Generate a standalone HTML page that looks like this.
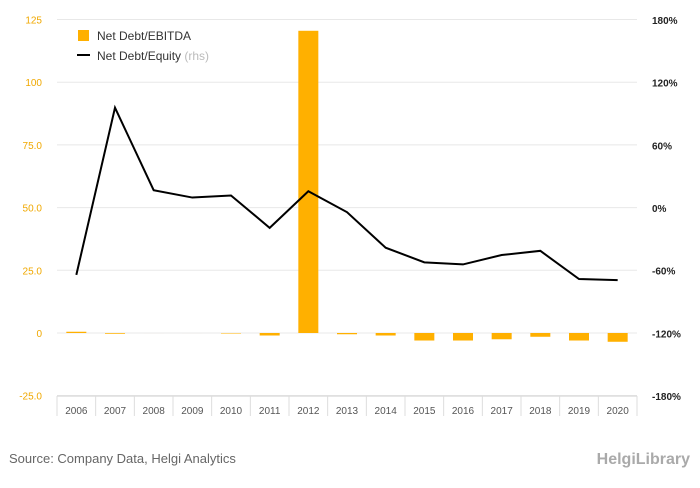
<!DOCTYPE html>
<html><head><meta charset="utf-8"><style>
body{margin:0;background:#fff;font-family:"Liberation Sans",sans-serif;}
svg text{font-family:"Liberation Sans",sans-serif;}
</style></head><body>
<svg id="c" width="700" height="483">
<g id="grid"></g><g id="bars"></g><g id="axes"></g><g id="line"></g>
<g>
<rect x="78" y="30" width="11" height="11" fill="#ffb000"/>
<text x="97" y="40" font-size="12" fill="#333">Net Debt/EBITDA</text>
<line x1="77" y1="55" x2="90" y2="55" stroke="#000" stroke-width="2"/>
<text x="97" y="60" font-size="12" fill="#333">Net Debt/Equity <tspan fill="#bbb">(rhs)</tspan></text>
</g>
<text x="9" y="463" font-size="13" fill="#666">Source: Company Data, Helgi Analytics</text>
<text x="690" y="464" font-size="16" fill="#aaa" text-anchor="end" font-weight="bold">HelgiLibrary</text>
</svg>
<script>
const years=["2006","2007","2008","2009","2010","2011","2012","2013","2014","2015","2016","2017","2018","2019","2020"];
const ebitda=[0.5,-0.3,0,0,-0.2,-1,120.5,-0.5,-1,-3,-3,-2.5,-1.5,-3,-3.5];
const equity=[-64,96,17,10,12,-19,16,-4,-38,-52,-54,-45,-41,-68,-69];
const leftTicks=[125,100,75,50,25,0,-25];
const leftLabels=["125","100","75.0","50.0","25.0","0","-25.0"];
const rightTicks=[180,120,60,0,-60,-120,-180];
const NS="http://www.w3.org/2000/svg";
const X0=57,X1=637,bw=(X1-X0)/years.length;
const yL=v=>333-(v)*62.7/25;
const yR=v=>208-v*62.7/60;
const xc=i=>X0+bw*(i+0.5);
function mk(t,a,p){const e=document.createElementNS(NS,t);for(const k in a)e.setAttribute(k,a[k]);document.getElementById(p).appendChild(e);return e;}
leftTicks.forEach((v,i)=>{
 const y=yL(v);
 const g=mk('line',{x1:X0,x2:X1,y1:y,y2:y,stroke:'#e8e8e8'},'grid');
 
 
 const t=mk('text',{x:42,y:y+4,'font-size':10,fill:'#f0a800','text-anchor':'end'},'axes');
 t.textContent=leftLabels[i];
 
 
});
rightTicks.forEach(v=>{
 const t=mk('text',{x:652,y:yR(v)+4,'font-size':10,fill:'#222','font-weight':'bold'},'axes');
 t.textContent=v+'%';
 
 
});
ebitda.forEach((v,i)=>{
 const y0=yL(0),y1=yL(v);
 const r=mk('rect',{x:xc(i)-10,width:20,y:Math.min(y0,y1),height:Math.max(Math.abs(y1-y0),0.01),fill:'#ffb000'},'bars');
 
 
});
const ax=mk('line',{x1:X0,x2:X1,y1:396,y2:396,stroke:'#ccc'},'axes');


years.forEach((yr,i)=>{
 const tk=mk('line',{x1:X0+bw*i,x2:X0+bw*i,y1:396,y2:416,stroke:'#ddd'},'axes');
 
 
 const t=mk('text',{x:xc(i),y:414,'font-size':10,fill:'#555','text-anchor':'middle'},'axes');
 t.textContent=yr;
 
 
});
const tk=mk('line',{x1:X1,x2:X1,y1:396,y2:416,stroke:'#ddd'},'axes');


const p=mk('polyline',{points:equity.map((v,i)=>xc(i)+','+yR(v)).join(' '),fill:'none',stroke:'#000','stroke-width':2},'line');


</script>
</body></html>
